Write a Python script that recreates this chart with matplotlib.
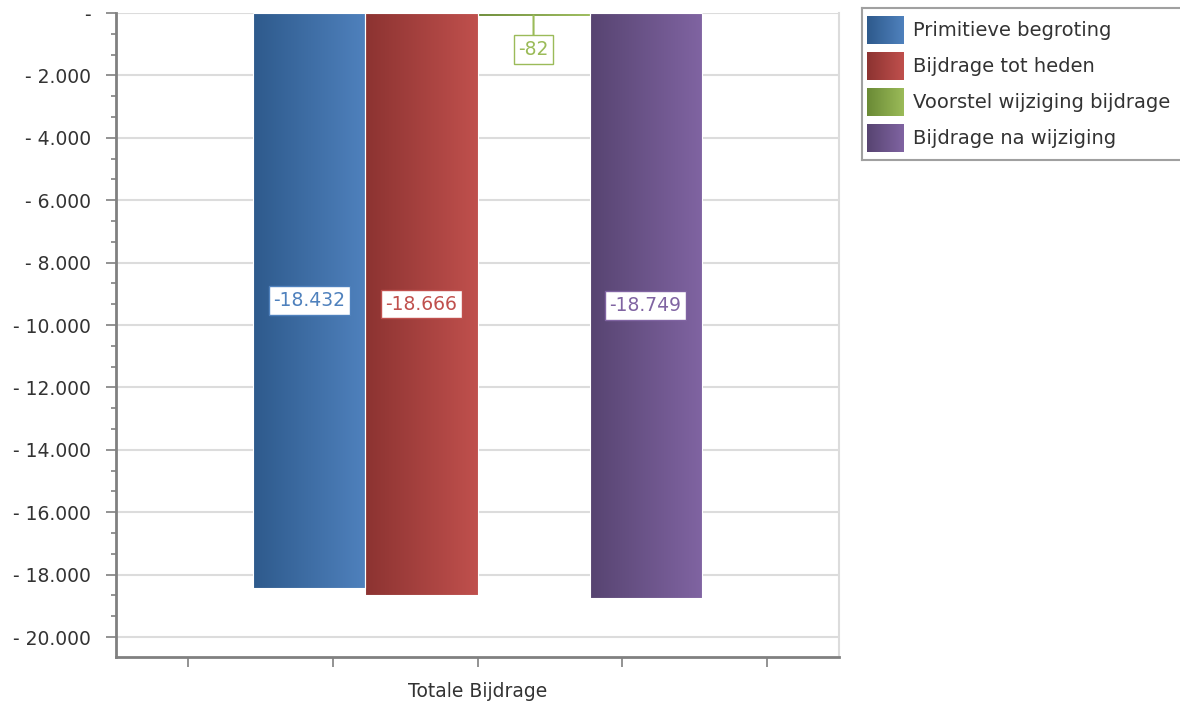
import numpy as np
import matplotlib
matplotlib.use("Agg")
import matplotlib.pyplot as plt
from matplotlib.colors import LinearSegmentedColormap
from matplotlib.ticker import FuncFormatter, MultipleLocator, FixedLocator

# data
category = "Totale Bijdrage"
series = ["Primitieve begroting", "Bijdrage tot heden",
          "Voorstel wijziging bijdrage", "Bijdrage na wijziging"]
values = [-18432, -18666, -82, -18749]

# colours (dark -> light gradient per series)
DARK = ["#2E5A8C", "#8C3331", "#6A8A35", "#574471"]
LIGHT = ["#4F81BD", "#C0504D", "#9BBB59", "#8064A2"]
TXT = "#333333"
GRID = "#DCDCDC"
AXIS = "#808080"

W, H = 1180, 706
fig = plt.figure(figsize=(W / 100, H / 100), dpi=100)
ax = fig.add_axes([116 / W, 1 - 657 / H, 723 / W, 644 / H])

grad = np.linspace(0, 1, 256).reshape(1, -1)
cmaps = [LinearSegmentedColormap.from_list(f"g{i}", [DARK[i], LIGHT[i]])
         for i in range(len(series))]

bw = 0.155
xs = (np.arange(len(series)) - (len(series) - 1) / 2) * bw
bars = ax.bar(xs, values, width=bw, color="none", edgecolor="white",
              linewidth=0.8, zorder=3)

for i, p in enumerate(bars.patches):
    x0, y0 = p.get_x(), p.get_y()
    x1, y1 = x0 + p.get_width(), y0 + p.get_height()
    im = ax.imshow(grad, extent=[x0, x1, min(y0, y1), max(y0, y1)],
                   aspect="auto", cmap=cmaps[i], zorder=2,
                   interpolation="bilinear")
    im.set_clip_path(p)

def fmt_nl(v):
    return f"{abs(int(round(v))):,}".replace(",", ".")

# data labels
for i, (x, v) in enumerate(zip(xs, values)):
    txt = "-" + fmt_nl(v) if v < 0 else fmt_nl(v)
    box = dict(boxstyle="square,pad=0.25", facecolor="white",
               edgecolor=LIGHT[i], linewidth=1.0)
    if abs(v) > 2000:
        ax.text(x, v / 2, txt, ha="center", va="center", fontsize=13.5,
                color=LIGHT[i], bbox=box, zorder=5)
    else:
        ax.annotate(txt, xy=(x, v), xytext=(0, -34),
                    textcoords="offset pixels", ha="center", va="center",
                    fontsize=13.5, color=LIGHT[i], bbox=box, zorder=5,
                    arrowprops=dict(arrowstyle="-", color=LIGHT[i], lw=1.5,
                                    shrinkA=0, shrinkB=0))

ax.set_xlim(-0.5, 0.5)
ax.set_ylim(-20640, 0)

ax.yaxis.set_major_locator(MultipleLocator(2000))
ax.yaxis.set_minor_locator(MultipleLocator(2000 / 3))
ax.yaxis.set_major_formatter(FuncFormatter(
    lambda v, pos: "-" if v == 0 else "- " + fmt_nl(v)))
ax.xaxis.set_major_locator(FixedLocator([-0.4, -0.2, 0, 0.2, 0.4]))
ax.set_xticklabels([])
ax.set_xlabel(category, fontsize=13.5, color=TXT, labelpad=7)

ax.grid(axis="y", color=GRID, linewidth=1.5, zorder=0)
ax.set_axisbelow(True)
ax.tick_params(axis="y", which="major", length=7.2, width=1.2, color=AXIS,
               labelsize=13.5, labelcolor=TXT, pad=11)
ax.tick_params(axis="y", which="minor", length=3.6, width=1.2, color=AXIS)
ax.tick_params(axis="x", which="major", length=7.2, width=1.2, color=AXIS)
for s in ("left", "bottom"):
    ax.spines[s].set_color(AXIS)
    ax.spines[s].set_linewidth(2)
ax.spines["top"].set_visible(False)
ax.spines["right"].set_color(GRID)
ax.spines["right"].set_linewidth(1.5)

# legend (drawn by hand for the gradient swatches)
lax = fig.add_axes([862 / W, 1 - 160 / H, 330 / W, 152 / H])
lax.set_xticks([])
lax.set_yticks([])
for s in lax.spines.values():
    s.set_color("#A0A0A0")
    s.set_linewidth(1.5)
for i, name in enumerate(series):
    yc = 22 + i * 36
    lax.imshow(grad, extent=[5, 42, yc + 14, yc - 14], aspect="auto",
               cmap=cmaps[i], interpolation="bilinear")
    lax.text(51, yc, name, ha="left", va="center", fontsize=14, color=TXT)
lax.set_xlim(0, 330)
lax.set_ylim(152, 0)

fig.savefig("out.png", dpi=100, facecolor="white")
